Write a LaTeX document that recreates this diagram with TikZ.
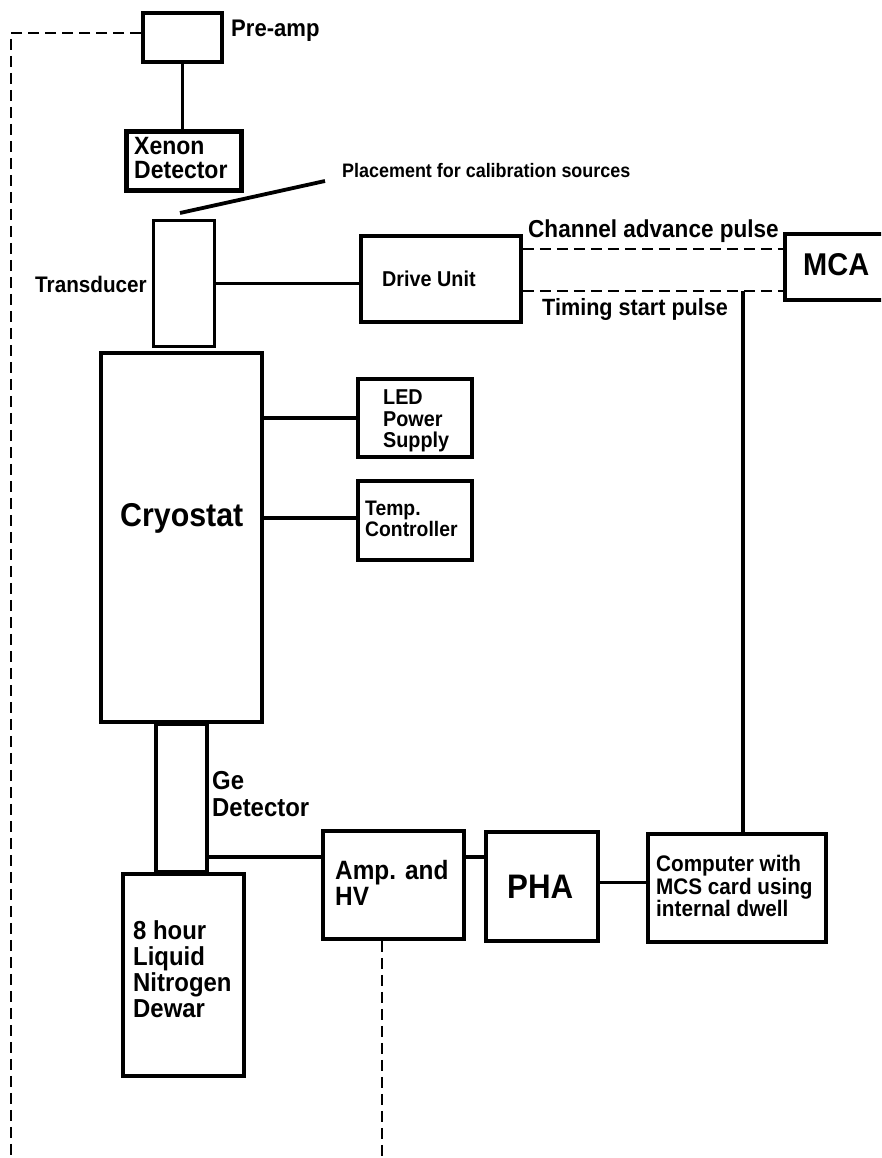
\documentclass[tikz,border=0pt]{standalone}
\usepackage{fontspec}
\newfontfamily\hv{Liberation Sans}[BoldFeatures={FakeStretch=0.92}]
\begin{document}
\begin{tikzpicture}[x=1pt,y=-1pt,
  box/.style={draw,line width=3.8pt,inner sep=0pt},
  wire/.style={line width=3.8pt},
  dwire/.style={line width=2.8pt,dash pattern=on 11pt off 6pt},
  lbl/.style={inner sep=0pt,align=left},
  fs/.style={font={\hv\bfseries\fontsize{#1}{#1}\selectfont}}]
\path[use as bounding box] (0,0) rectangle (881,1158);
\clip (0,0) rectangle (881,1158);
% boxes
\node[box,minimum width=79pt,minimum height=49pt] (pre) at (182.5,37.5) {};
\node[box,line width=5pt,minimum width=115pt,minimum height=59pt] (xe) at (183.5,161.5) {};
\node[box,minimum width=61pt,minimum height=126pt] (tr) at (184,283.5) {};
\node[box,minimum width=160pt,minimum height=86pt] (dr) at (441,279) {};
\node[box,minimum width=120pt,minimum height=66pt] (mca) at (845,267) {};
\node[box,minimum width=161pt,minimum height=369pt] (cry) at (181.5,537.5) {};
\node[box,minimum width=114pt,minimum height=78pt] (led) at (415,418) {};
\node[box,minimum width=114pt,minimum height=79pt] (temp) at (415,520.5) {};
\node[box,minimum width=51pt,minimum height=148pt] (ge) at (181.5,798) {};
\node[box,minimum width=121pt,minimum height=202pt] (dew) at (183.5,975) {};
\node[box,minimum width=141pt,minimum height=108pt] (amp) at (393.5,885) {};
\node[box,minimum width=112pt,minimum height=109pt] (pha) at (542,886.5) {};
\node[box,minimum width=178pt,minimum height=108pt] (comp) at (737,888) {};
% texts
\node[lbl,fs=24,anchor=base west] (tpre) at (231,37) {Pre-amp};
\node[lbl,fs=25,anchor=north west] (txe) at (134,137) {Xenon\\[-0.5pt]Detector};
\node[lbl,fs=19.5,anchor=base west] (tpl) at (342,178) {Placement for calibration sources};
\node[lbl,fs=22.5,anchor=base east] (ttr) at (147,292) {Transducer};
\node[lbl,fs=21.5,anchor=base west] (tdr) at (382,286) {Drive Unit};
\node[lbl,fs=24.5,anchor=base west] (tch) at (528,237) {Channel advance pulse};
\node[lbl,fs=23.5,anchor=base west] (tti) at (542,315) {Timing start pulse};
\node[lbl,fs=31.5,anchor=base west] (tmca) at (803,275) {MCA};
\node[lbl,fs=21.5,anchor=north west] (tled) at (383,390) {LED\\Power\\Supply};
\node[lbl,fs=21,anchor=north west] (ttemp) at (365,501) {Temp.\\Controller};
\node[lbl,fs=33,anchor=base west] (tcry) at (120,526) {Cryostat};
\node[lbl,fs=26,anchor=north west] (tge) at (212,771.5) {Ge\\[1pt]Detector};
\node[lbl,fs=26,anchor=north west] (tdew) at (133,920) {8 hour\\Liquid\\Nitrogen\\Dewar};
\node[lbl,fs=26.5,anchor=north west] (tamp) at (335,860) {Amp. and\\HV};
\node[lbl,fs=34,anchor=base west] (tpha) at (507,898) {PHA};
\node[lbl,fs=22.5,anchor=north west] (tcomp) at (656,855) {Computer with\\MCS card using\\internal dwell};
% coordinates
\coordinate (pl1) at (180,213);
\coordinate (pl2) at (325,181);
\coordinate (gx) at ([yshift=-59pt]ge.east);
\coordinate (d1) at ([yshift=30pt]dr.east);
\coordinate (d2) at ([yshift=-12pt]dr.east);
\coordinate (t1) at (743,291);
\coordinate (pw) at ([yshift=4.5pt]pre.west);
\coordinate (lb) at (11,1162);
\coordinate (ab) at ([xshift=-11.5pt]amp.south);
% connectors
\draw[wire] (pre.south) -- (pre.south |- xe.north);
\draw[wire] (pl1) -- (pl2);
\draw[wire] (tr.east) -- (tr.east -| dr.west);
\draw[wire] (led.west -| cry.east) -- (led.west);
\draw[wire] ([yshift=2.5pt]temp.west -| cry.east) -- ([yshift=2.5pt]temp.west);
\draw[wire] (gx) -- (gx -| amp.west);
\draw[wire] (gx -| amp.east) -- (gx -| pha.west);
\draw[wire] ([yshift=4pt]pha.east) -- ([yshift=4pt]pha.east -| comp.west);
\draw[wire] (t1) -- (t1 |- comp.north);
\draw[dwire] (d1) -- (d1 -| mca.west);
\draw[dwire] (d2) -- (d2 -| mca.west);
\draw[dwire] (pw) -| (lb);
\draw[dwire] (ab) -- (ab |- lb);
\end{tikzpicture}
\end{document}
